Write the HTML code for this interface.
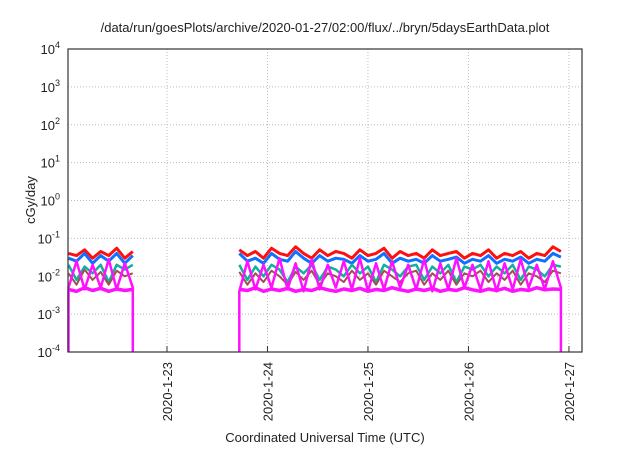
<!DOCTYPE html>
<html><head><meta charset="utf-8"><style>
body{margin:0;background:#fff;}
svg text{font-family:"Liberation Sans",sans-serif;fill:#222;}
</style></head><body>
<svg id="c" width="640" height="448" viewBox="0 0 640 448">
<text x="325" y="32" font-size="13" text-anchor="middle">/data/run/goesPlots/archive/2020-01-27/02:00/flux/../bryn/5daysEarthData.plot</text>
<text x="325" y="442" font-size="13" text-anchor="middle">Coordinated Universal Time (UTC)</text>
<text transform="translate(35,200) rotate(-90)" font-size="13" text-anchor="middle">cGy/day</text>
<g id="grid"></g><g id="series"></g><g id="axes"></g>
</svg>
<script>
const xTicks=[23,24,25,26,27];
const xTickLabels=["2020-1-23","2020-1-24","2020-1-25","2020-1-26","2020-1-27"];
const yExps=[-4,-3,-2,-1,0,1,2,3,4];
const times=[22.02,22.10,22.18,22.26,22.34,22.42,22.50,22.58,22.66,
23.72,23.80,23.88,23.96,24.04,24.12,24.20,24.28,24.36,24.44,24.52,24.60,24.68,24.76,24.84,24.92,25.00,25.08,25.16,25.24,25.32,25.40,25.48,25.56,25.64,25.72,25.80,25.88,25.96,26.04,26.12,26.20,26.28,26.36,26.44,26.52,26.60,26.68,26.76,26.84,26.92];
const segBreak=9;
const redVals=[0.04,0.035,0.05,0.03,0.045,0.035,0.055,0.03,0.045,
0.05,0.035,0.045,0.03,0.055,0.04,0.035,0.06,0.04,0.03,0.05,0.035,0.045,0.04,0.03,0.05,0.035,0.04,0.055,0.03,0.045,0.035,0.04,0.03,0.05,0.035,0.04,0.045,0.03,0.04,0.035,0.05,0.03,0.04,0.035,0.045,0.03,0.04,0.035,0.06,0.045];
const blueVals=[0.03,0.025,0.04,0.022,0.035,0.025,0.04,0.022,0.035,
0.04,0.025,0.03,0.022,0.04,0.028,0.025,0.045,0.03,0.022,0.035,0.025,0.03,0.028,0.022,0.035,0.025,0.028,0.04,0.022,0.03,0.025,0.028,0.022,0.035,0.025,0.028,0.032,0.022,0.028,0.025,0.035,0.022,0.028,0.025,0.032,0.022,0.028,0.025,0.04,0.032];
const tealVals=[0.02,0.008,0.018,0.012,0.02,0.007,0.02,0.015,0.02,
0.02,0.008,0.018,0.01,0.02,0.015,0.007,0.018,0.012,0.02,0.008,0.018,0.015,0.01,0.02,0.012,0.018,0.007,0.02,0.015,0.01,0.018,0.02,0.008,0.018,0.012,0.02,0.007,0.018,0.015,0.02,0.01,0.018,0.012,0.02,0.008,0.018,0.015,0.01,0.02,0.018];
const brownVals=[0.012,0.006,0.015,0.008,0.013,0.006,0.014,0.01,0.012,
0.013,0.006,0.012,0.007,0.014,0.01,0.006,0.013,0.008,0.014,0.006,0.012,0.01,0.007,0.014,0.008,0.012,0.006,0.014,0.01,0.007,0.012,0.014,0.006,0.012,0.008,0.014,0.006,0.012,0.01,0.014,0.007,0.012,0.008,0.014,0.006,0.012,0.01,0.007,0.014,0.012];
const magLowVals=[0.0045,0.004,0.005,0.0042,0.0048,0.004,0.0046,0.0042,0.0045,
0.0045,0.0042,0.005,0.004,0.0046,0.0042,0.0048,0.004,0.0045,0.0042,0.005,0.0044,0.004,0.0046,0.0042,0.0048,0.004,0.0045,0.0042,0.005,0.0044,0.004,0.0046,0.0042,0.0048,0.004,0.0045,0.0042,0.005,0.0044,0.004,0.0046,0.0042,0.0048,0.004,0.0045,0.0042,0.005,0.0044,0.0046,0.0045];
const magVals=[0.005,0.025,0.0045,0.02,0.005,0.028,0.0045,0.022,0.005,
0.004,0.025,0.0045,0.02,0.005,0.03,0.0045,0.022,0.004,0.028,0.0045,0.02,0.005,0.025,0.0045,0.03,0.004,0.022,0.0045,0.025,0.005,0.02,0.0045,0.028,0.004,0.022,0.0045,0.03,0.005,0.02,0.0045,0.025,0.004,0.022,0.0045,0.028,0.005,0.02,0.0045,0.025,0.005];
const L=68,R=582,T=49,B=352;
const x=t=>L+(t-22.015)/(27.13-22.015)*(R-L);
const y=v=>B-(Math.log10(v)+4)/8*(B-T);
const NS="http://www.w3.org/2000/svg";
function mk(tag,attrs,parent){const e=document.createElementNS(NS,tag);for(const k in attrs)e.setAttribute(k,attrs[k]);parent.appendChild(e);return e;}
const grid=document.getElementById('grid'),axes=document.getElementById('axes'),ser=document.getElementById('series');
yExps.forEach(p=>{const yy=y(Math.pow(10,p));
 if(p>-4&&p<4){const g=mk('line',{x1:L,x2:R,y1:yy,y2:yy,stroke:'#bbb','stroke-dasharray':'1,2'},grid);
 
 }
 const t=mk('text',{x:L-8,y:yy+5,'font-size':13,'text-anchor':'end'},axes);
 
 
 t.textContent='10';const s=mk('tspan',{dy:-6,'font-size':9},t);s.textContent=String(p);});
xTicks.forEach((d,i)=>{const xx=x(d);
 const g=mk('line',{x1:xx,x2:xx,y1:T,y2:B,stroke:'#bbb','stroke-dasharray':'1,2'},grid);
 
 
 mk('line',{x1:xx,x2:xx,y1:B,y2:B-6,stroke:'#333'},axes);
 const t=mk('text',{transform:`translate(${xx+5},${B+10}) rotate(-90)`,'font-size':13,'text-anchor':'end'},axes);
 
 
 t.textContent=xTickLabels[i];});
const fr=mk('rect',{x:L,y:T,width:R-L,height:B-T,fill:'none',stroke:'#333','stroke-width':1.2},axes);


const list=[[redVals,'#ff1010','series-red',3],[blueVals,'#1070ff','series-blue',3],[tealVals,'#10b0a0','series-teal',2.5],[brownVals,'#a05050','series-brown',2],[magVals,'#ff10ff','series-magenta',2.5],[magLowVals,'#ff10ff','series-magenta-low',3.5]];
list.forEach(([vals,col,nm,w])=>{
 [[0,segBreak],[segBreak,times.length]].forEach(([a,b])=>{
  let pts=[];for(let i=a;i<b;i++)pts.push(x(times[i]).toFixed(1)+','+y(vals[i]).toFixed(1));
  if(nm==='series-magenta'){pts.unshift(x(times[a]).toFixed(1)+','+B);pts.push(x(times[b-1]).toFixed(1)+','+B);}
  const p=mk('polyline',{points:pts.join(' '),fill:'none',stroke:col,'stroke-width':w,'stroke-linejoin':'round'},ser);
  
  
 });
});
</script>
</body></html>
